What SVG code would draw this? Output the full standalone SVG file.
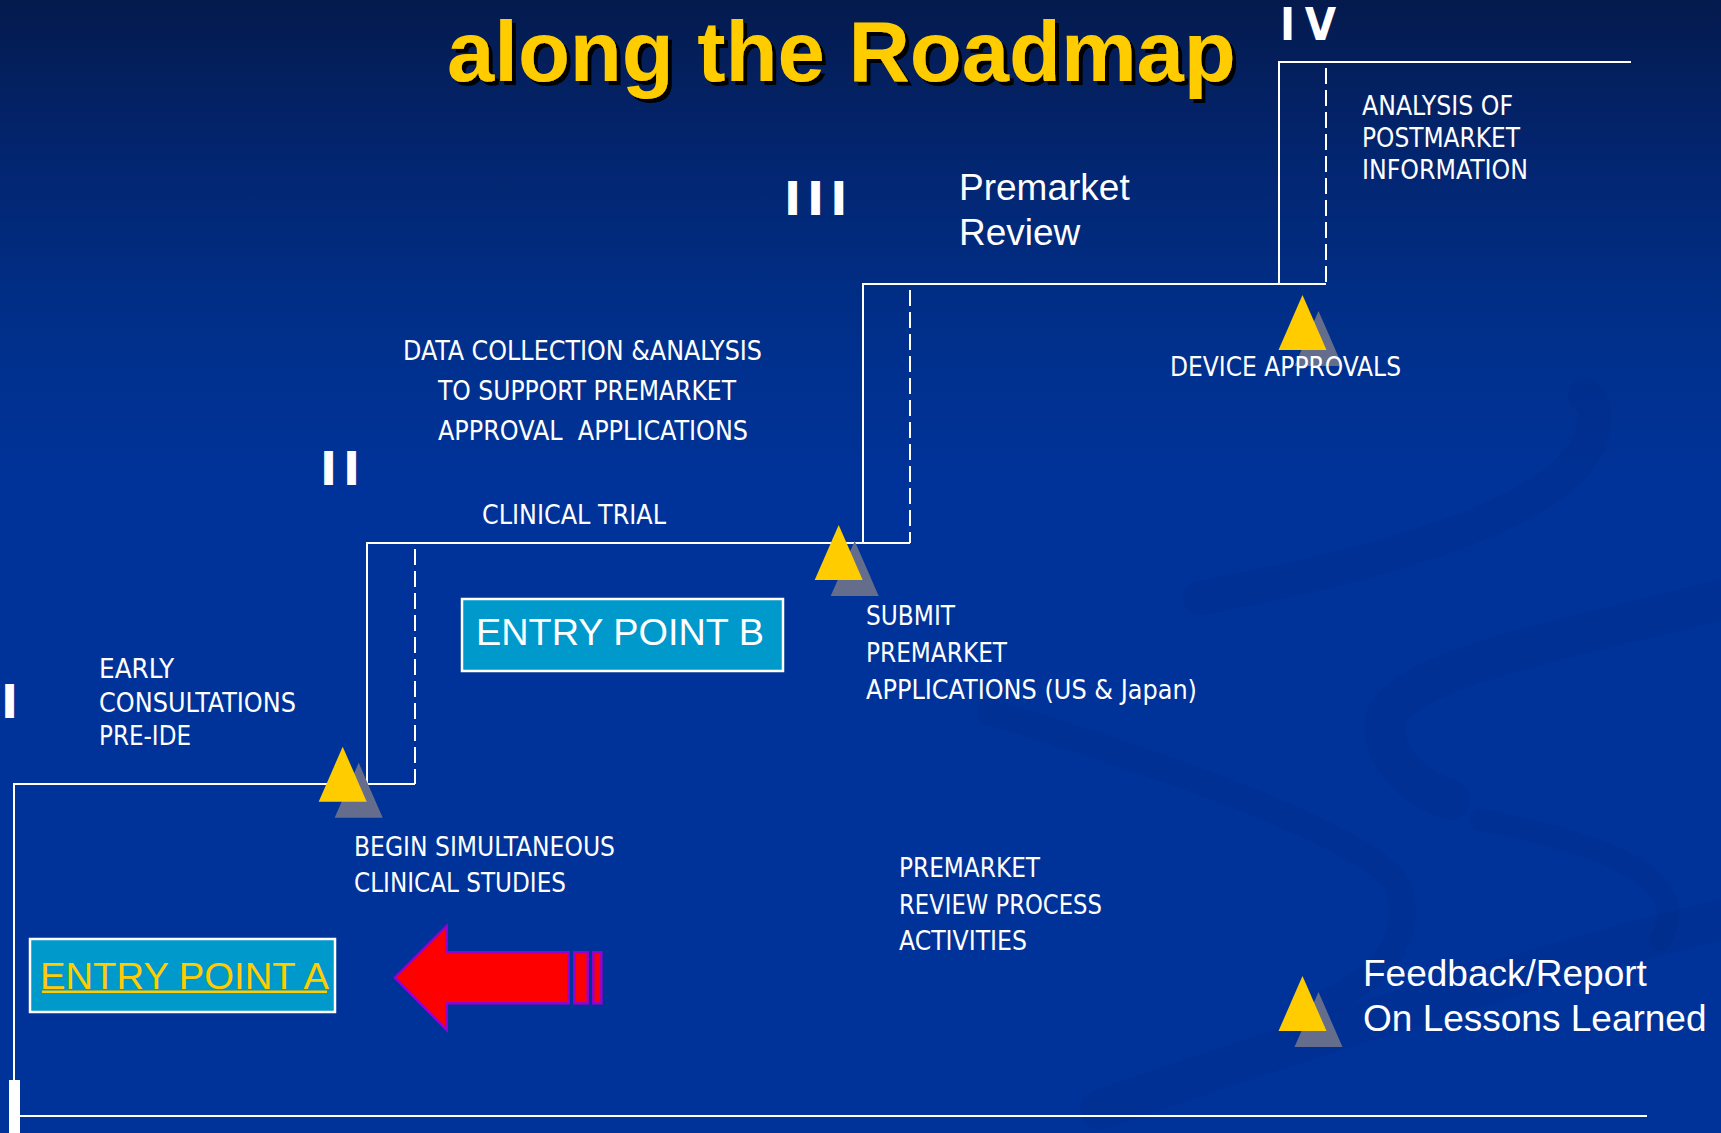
<svg xmlns="http://www.w3.org/2000/svg" width="1721" height="1133" viewBox="0 0 1721 1133">
<defs>
<linearGradient id="bg" x1="0" y1="0" x2="0" y2="1">
<stop offset="0" stop-color="#041a4d"/>
<stop offset="0.12" stop-color="#03246c"/>
<stop offset="0.3" stop-color="#00308c"/>
<stop offset="0.42" stop-color="#003399"/>
<stop offset="1" stop-color="#003399"/>
</linearGradient>
<filter id="shadow" x="-5%" y="-20%" width="115%" height="150%">
<feDropShadow dx="4" dy="4" stdDeviation="0" flood-color="#000000" flood-opacity="1"/>
</filter>
<g id="tri">
<polygon points="16,16 -8,71 40,71" fill="#646e8c"/>
<polygon points="0,0 -24,55 24,55" fill="#ffcc00"/>
</g>
</defs>
<style>
.ln{stroke:#ffffff;stroke-width:2;fill:none}
.dash{stroke:#ffffff;stroke-width:2;fill:none;stroke-dasharray:16 6}
.sm{font-family:"DejaVu Sans Condensed","DejaVu Sans",sans-serif;font-stretch:condensed;font-size:26px;fill:#ffffff;white-space:pre}
.big{font-family:"Liberation Sans",Arial,sans-serif;font-size:37px;fill:#ffffff}
.num{font-family:"DejaVu Sans",sans-serif;font-weight:bold;font-size:46px;fill:#ffffff}
.box{fill:#0099cc;stroke:#ffffff;stroke-width:2.5}
.sw{fill:none;stroke:#002c8a;stroke-opacity:0.35;stroke-linecap:round}
</style>
<rect x="0" y="0" width="1721" height="1133" fill="url(#bg)"/>
<g id="swooshes">
<path class="sw" stroke-width="34" d="M1200,598 C1350,570 1560,520 1590,440 C1600,410 1592,400 1585,395"/>
<path class="sw" stroke-width="40" d="M1721,600 C1560,640 1400,670 1385,720 C1380,760 1420,790 1450,800"/>
<path class="sw" stroke-width="26" d="M990,712 C1150,760 1350,830 1395,880 C1420,930 1380,980 1330,1000"/>
<path class="sw" stroke-width="40" d="M1100,1110 C1300,1040 1550,960 1721,920"/>
<path class="sw" stroke-width="22" d="M1480,820 C1640,850 1690,890 1660,940"/>
</g>
<g id="title">
<text x="447" y="81" font-family="Liberation Sans,Arial,sans-serif" font-weight="bold" font-size="85" fill="#ffcc00" filter="url(#shadow)">along the Roadmap</text>
</g>
<g id="connectors">
<polyline class="ln" points="14,1133 14,784 415,784"/>
<polyline class="ln" points="367,784 367,543 910,543"/>
<polyline class="ln" points="863,543 863,284 1326,284"/>
<polyline class="ln" points="1279,284 1279,62 1631,62"/>
<line class="dash" x1="415" y1="549" x2="415" y2="784"/>
<line class="dash" x1="910" y1="290" x2="910" y2="543"/>
<line class="dash" x1="1326" y1="68" x2="1326" y2="284"/>
<line class="ln" x1="14" y1="1116" x2="1647" y2="1116"/>
<rect x="9" y="1080" width="11" height="53" fill="#ffffff"/>
</g>
<g id="numerals">
<text class="num" x="1" y="718">I</text>
<text class="num" x="320" y="485" letter-spacing="6">II</text>
<text class="num" x="784" y="215" letter-spacing="6">III</text>
<text x="1280" y="40" font-family="DejaVu Sans Condensed,DejaVu Sans,sans-serif" font-stretch="condensed" font-weight="bold" font-size="45" fill="#ffffff" textLength="56" lengthAdjust="spacing">IV</text>
</g>
<g id="tri1"><use href="#tri" x="342.7" y="746.7"/></g>
<g id="tri2"><use href="#tri" x="838.7" y="525"/></g>
<g id="tri3"><use href="#tri" x="1302.5" y="295"/></g>
<g id="tri4"><use href="#tri" x="1302.5" y="976"/></g>
<g id="stage4-text">
<text class="sm" x="1362" y="115" textLength="151" lengthAdjust="spacingAndGlyphs">ANALYSIS OF</text>
<text class="sm" x="1362" y="147" textLength="158" lengthAdjust="spacingAndGlyphs">POSTMARKET</text>
<text class="sm" x="1362" y="179" textLength="166" lengthAdjust="spacingAndGlyphs">INFORMATION</text>
</g>
<g id="stage3-text">
<text class="big" x="959" y="200">Premarket</text>
<text class="big" x="959" y="245">Review</text>
</g>
<g id="data-text">
<text class="sm" x="403" y="360" textLength="359" lengthAdjust="spacingAndGlyphs">DATA COLLECTION &amp;ANALYSIS</text>
<text class="sm" x="438" y="400" textLength="298" lengthAdjust="spacingAndGlyphs">TO SUPPORT PREMARKET</text>
<text class="sm" x="438" y="440" textLength="310" lengthAdjust="spacingAndGlyphs">APPROVAL  APPLICATIONS</text>
</g>
<g id="clinical-trial"><text class="sm" x="482" y="524" textLength="184" lengthAdjust="spacingAndGlyphs">CLINICAL TRIAL</text></g>
<g id="device-approvals"><text class="sm" x="1170" y="376" textLength="231" lengthAdjust="spacingAndGlyphs">DEVICE APPROVALS</text></g>
<g id="early">
<text class="sm" x="99" y="678" textLength="75" lengthAdjust="spacingAndGlyphs">EARLY</text>
<text class="sm" x="99" y="712" textLength="197" lengthAdjust="spacingAndGlyphs">CONSULTATIONS</text>
<text class="sm" x="99" y="745" textLength="92" lengthAdjust="spacingAndGlyphs">PRE-IDE</text>
</g>
<g id="entry-b">
<rect class="box" x="462" y="599" width="321" height="72"/>
<text class="big" x="476" y="645" textLength="288" lengthAdjust="spacingAndGlyphs">ENTRY POINT B</text>
</g>
<g id="submit">
<text class="sm" x="866" y="625" textLength="89" lengthAdjust="spacingAndGlyphs">SUBMIT</text>
<text class="sm" x="866" y="662" textLength="141" lengthAdjust="spacingAndGlyphs">PREMARKET</text>
<text class="sm" x="866" y="699" textLength="331" lengthAdjust="spacingAndGlyphs">APPLICATIONS (US &amp; Japan)</text>
</g>
<g id="begin">
<text class="sm" x="354" y="856" textLength="261" lengthAdjust="spacingAndGlyphs">BEGIN SIMULTANEOUS</text>
<text class="sm" x="354" y="892" textLength="212" lengthAdjust="spacingAndGlyphs">CLINICAL STUDIES</text>
</g>
<g id="review-activities">
<text class="sm" x="899" y="877" textLength="141" lengthAdjust="spacingAndGlyphs">PREMARKET</text>
<text class="sm" x="899" y="914" textLength="203" lengthAdjust="spacingAndGlyphs">REVIEW PROCESS</text>
<text class="sm" x="899" y="950" textLength="128" lengthAdjust="spacingAndGlyphs">ACTIVITIES</text>
</g>
<g id="entry-a">
<rect class="box" x="30" y="939" width="305" height="73"/>
<text class="big" x="40" y="989" style="fill:#ffcc00" textLength="289" lengthAdjust="spacingAndGlyphs">ENTRY POINT A</text>
<rect x="42" y="990.5" width="285" height="2.5" fill="#ffcc00"/>
</g>
<g id="red-arrow">
<polygon points="395,977.7 446.7,926 446.7,952.3 568.7,952.3 568.7,1003.3 446.7,1003.3 446.7,1030" fill="#ff0000" stroke="#9900cc" stroke-width="2.5" stroke-linejoin="miter"/>
<rect x="574.3" y="952.3" width="13.4" height="51" fill="#ff0000" stroke="#9900cc" stroke-width="2.5"/>
<rect x="593.3" y="952.3" width="8" height="51" fill="#ff0000" stroke="#9900cc" stroke-width="2.5"/>
</g>
<g id="feedback">
<text class="big" x="1363" y="986">Feedback/Report</text>
<text class="big" x="1363" y="1031">On Lessons Learned</text>
</g>
</svg>
